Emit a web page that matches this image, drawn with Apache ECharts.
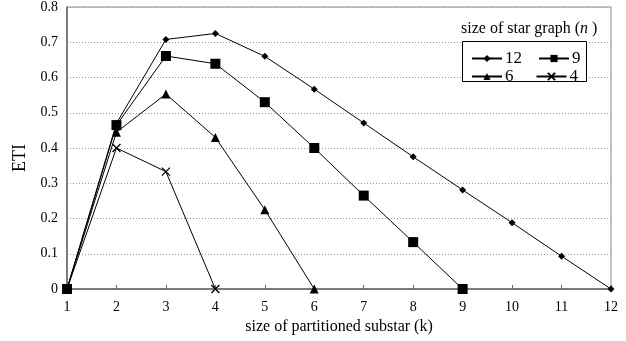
<!DOCTYPE html>
<html><head><meta charset="utf-8">
<script src="https://cdn.jsdelivr.net/npm/echarts@6/dist/echarts.min.js"></script>
<style>html,body{margin:0;padding:0;background:#fff}#c{width:626px;height:341px}</style>
</head><body><div id="c"></div>
<script>
const categories = ['1','2','3','4','5','6','7','8','9','10','11','12'];
const n12 = [0, 0.47, 0.708, 0.725, 0.66, 0.567, 0.471, 0.375, 0.281, 0.188, 0.093, 0];
const n9  = [0, 0.465, 0.661, 0.639, 0.53, 0.40, 0.265, 0.133, 0];
const n6  = [0, 0.445, 0.553, 0.43, 0.225, 0];
const n4  = [0, 0.40, 0.333, 0];
const yTicks = [0, 0.1, 0.2, 0.3, 0.4, 0.5, 0.6, 0.7, 0.8];

const font = 'Liberation Serif';
const chart = echarts.init(document.getElementById('c'), null, {renderer:'canvas'});
const crossPath = 'path://M0,0L10,10M10,0L0,10';
function mk(name, data, symbol, size){
  return {
    name, type:'line', data, symbol, symbolSize:size, showSymbol:true,
    lineStyle:{color:'#000', width:1},
    itemStyle:{color:'#000', borderColor:'#000', borderWidth: symbol===crossPath?1.3:0},
    emphasis:{disabled:true}, animation:false, z: 3
  };
}
chart.setOption({
  animation:false,
  textStyle:{fontFamily:font},
  grid:{left:67, right:15, top:4, bottom:52, show:true, borderColor:'#888', borderWidth:1},
  xAxis:{
    type:'category', data:categories, boundaryGap:false,
    axisLine:{lineStyle:{color:'#666', width:1.5}},
    axisTick:{inside:true, length:4, lineStyle:{color:'#666'}},
    axisLabel:{color:'#000', fontSize:14, fontFamily:font, margin:11},
    name:'size of partitioned substar (k)', nameLocation:'middle', nameGap:26,
    nameTextStyle:{color:'#000', fontSize:16, fontFamily:font}
  },
  yAxis:{
    type:'value', min:0, max:0.8, interval:0.1,
    axisLine:{show:true, lineStyle:{color:'#666', width:1.5}},
    axisTick:{show:false},
    axisLabel:{color:'#000', fontSize:14, fontFamily:font, margin:9,
      formatter: v => { const t = yTicks.find(x => Math.abs(x-v)<1e-9); return t===undefined?'':String(t); }},
    splitLine:{lineStyle:{color:'#999', type:[1,2], width:1}}
  },
  legend:[
    {data:['12','9'], left:466, top:45, itemWidth:30, itemHeight:9, itemGap:16, selectedMode:false,
     textStyle:{fontSize:17, color:'#000', fontFamily:font, padding:[0,0,0,-2]}},
    {data:['6','4'], left:466, top:63, itemWidth:30, itemHeight:9, itemGap:22, selectedMode:false,
     textStyle:{fontSize:17, color:'#000', fontFamily:font, padding:[0,0,0,-2]}}
  ],
  graphic:[
    {type:'rect', left:462, top:41, z:1, shape:{width:124, height:40}, style:{fill:'#fff', stroke:'#000', lineWidth:1}},
    {type:'text', left:461, top:21, z:2, style:{
      text:'{a|size of star graph (}{b|n}{a| )}',
      rich:{a:{fontSize:16, fontFamily:font, fill:'#000'}, b:{fontSize:16, fontFamily:font, fontStyle:'italic', fill:'#000'}}
    }},
    {type:'text', x:20, y:158, rotation:Math.PI/2, z:2, style:{
      text:'ETI', fontSize:18, fontFamily:font, fill:'#000', align:'center', verticalAlign:'middle'
    }}
  ],
  series:[
    mk('12', n12, 'diamond', 7),
    mk('9', n9, 'rect', 10),
    mk('6', n6, 'triangle', 9),
    mk('4', n4, crossPath, 8)
  ]
});
</script></body></html>
